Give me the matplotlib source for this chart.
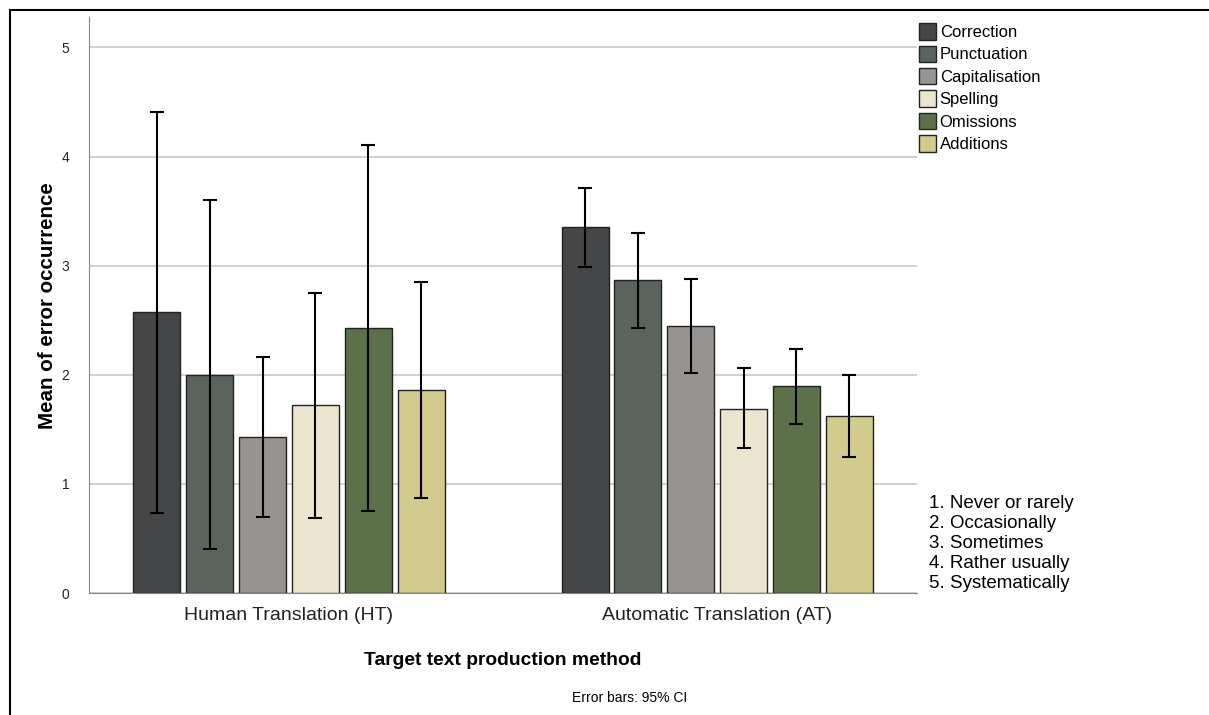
import matplotlib.pyplot as plt
import numpy as np
from matplotlib.patches import Patch, Rectangle

plt.rcParams['font.family'] = ['Liberation Sans', 'DejaVu Sans']

# data
groups = ["Human Translation (HT)", "Automatic Translation (AT)"]
categories = ["Correction", "Punctuation", "Capitalisation", "Spelling", "Omissions", "Additions"]
colors = ["#454647", "#5a645d", "#979391", "#ebe5cf", "#5c7149", "#d1cb8e"]

means_ht = [2.58, 2.00, 1.43, 1.72, 2.43, 1.86]
low_ht = [0.73, 0.40, 0.70, 0.69, 0.75, 0.87]
high_ht = [4.41, 3.60, 2.16, 2.75, 4.11, 2.85]

means_at = [3.35, 2.87, 2.45, 1.69, 1.90, 1.62]
low_at = [2.99, 2.43, 2.02, 1.33, 1.55, 1.25]
high_at = [3.71, 3.30, 2.88, 2.06, 2.24, 2.00]

scale_text = ["1. Never or rarely", "2. Occasionally", "3. Sometimes",
              "4. Rather usually", "5. Systematically"]

fig = plt.figure(figsize=(12.09, 7.15), dpi=100)
ax = fig.add_axes([0.0736, 0.1706, 0.685, 0.805])

# figure frame
fig.patches.append(Rectangle((10 / 1209, -0.1), 1.2, 1 - 10 / 715 + 0.1,
                             transform=fig.transFigure, fill=False,
                             edgecolor="black", linewidth=1.5))

x = np.arange(len(groups))
step = 0.1234
width = 0.11
for i, cat in enumerate(categories):
    pos = x + (i - 2.5) * step
    vals = np.array([means_ht[i], means_at[i]])
    lo = np.array([low_ht[i], low_at[i]])
    hi = np.array([high_ht[i], high_at[i]])
    ax.bar(pos, vals, width=width, color=colors[i], edgecolor="#222222",
           linewidth=1.0, label=cat, zorder=3)
    ax.errorbar(pos, vals, yerr=[vals - lo, hi - vals], fmt="none",
                ecolor="black", elinewidth=1.5, capsize=4.7, capthick=1.5, zorder=4)

ax.set_xlim(-0.467, 1.467)
ax.set_ylim(0, 5.275)
ax.set_yticks([0, 1, 2, 3, 4, 5])
ax.set_xticks(x)
ax.set_xticklabels(groups, fontsize=14)
ax.tick_params(axis="y", length=0, labelsize=10, pad=14, labelcolor="#222222")
ax.tick_params(axis="x", length=0, pad=10, labelcolor="#222222")
ax.yaxis.grid(True, color="#c8c8c8", linewidth=1.2, zorder=0)
ax.set_axisbelow(True)
for s in ["top", "right"]:
    ax.spines[s].set_visible(False)
ax.spines["left"].set_color("#888888")
ax.spines["bottom"].set_color("#888888")

ax.set_ylabel("Mean of error occurrence", fontsize=14.8, fontweight="bold", labelpad=3.5)
ax.set_xlabel("Target text production method", fontsize=13.9, fontweight="bold", labelpad=20)

handles = [Patch(facecolor=c, edgecolor="#222222", label=l) for c, l in zip(colors, categories)]
fig.legend(handles=handles, loc="upper left", bbox_to_anchor=(0.7545, 0.977), frameon=False,
           fontsize=12, handlelength=1.0, handleheight=1.15, handletextpad=0.25,
           labelspacing=0.33, borderaxespad=0)

fig.text(0.768, 0.308, "\n".join(scale_text), fontsize=13.5, va="top", ha="left",
         linespacing=1.23)
fig.text(0.521, 0.024, "Error bars: 95% CI", fontsize=10, ha="center", va="center")

fig.savefig("out.png", dpi=100)
